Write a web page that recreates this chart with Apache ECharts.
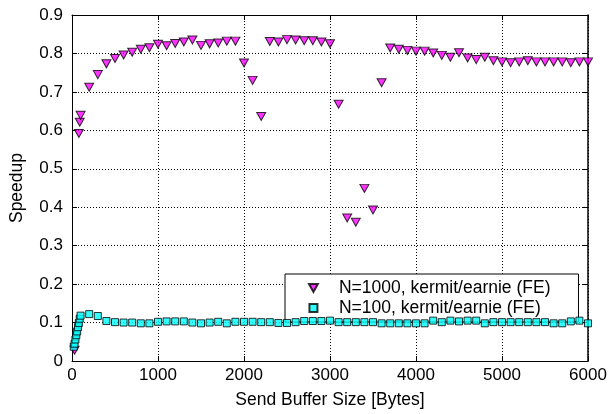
<!DOCTYPE html>
<html>
<head>
<meta charset="utf-8">
<script src="https://cdn.jsdelivr.net/npm/echarts@6/dist/echarts.min.js"></script>
<style>
html,body{margin:0;padding:0;background:#fff;}
#chart{width:611px;height:414px;}
</style>
</head>
<body>
<div id="chart"></div>
<script>
// N=1000, kermit/earnie (FE)
const triX = [30,80,90,100,200,300,400,500,600,700,800,900,1000,1100,1200,1300,1400,1500,1600,1700,1800,1900,2000,2100,2200,2300,2400,2500,2600,2700,2800,2900,3000,3100,3200,3300,3400,3500,3600,3700,3800,3900,4000,4100,4200,4300,4400,4500,4600,4700,4800,4900,5000,5100,5200,5300,5400,5500,5600,5700,5800,5900,6000];
const triY = [0.028,0.592,0.621,0.639,0.712,0.745,0.773,0.787,0.796,0.803,0.811,0.815,0.824,0.820,0.826,0.830,0.835,0.821,0.825,0.827,0.832,0.832,0.775,0.730,0.636,0.831,0.830,0.836,0.835,0.833,0.833,0.830,0.825,0.668,0.372,0.361,0.449,0.393,0.724,0.814,0.811,0.808,0.806,0.806,0.801,0.795,0.790,0.802,0.788,0.784,0.790,0.781,0.778,0.776,0.778,0.781,0.778,0.778,0.778,0.778,0.776,0.778,0.778];
// N=100, kermit/earnie (FE)
const sqX = [20,30,40,50,60,70,80,90,100,200,300,400,500,600,700,800,900,1000,1100,1200,1300,1400,1500,1600,1700,1800,1900,2000,2100,2200,2300,2400,2500,2600,2700,2800,2900,3000,3100,3200,3300,3400,3500,3600,3700,3800,3900,4000,4100,4200,4300,4400,4500,4600,4700,4800,4900,5000,5100,5200,5300,5400,5500,5600,5700,5800,5900,6000];
const sqY = [0.037,0.045,0.056,0.067,0.077,0.088,0.099,0.110,0.118,0.122,0.117,0.104,0.101,0.100,0.100,0.098,0.098,0.102,0.103,0.103,0.103,0.100,0.098,0.100,0.102,0.098,0.102,0.102,0.102,0.101,0.101,0.099,0.099,0.101,0.104,0.104,0.104,0.105,0.101,0.101,0.101,0.101,0.101,0.098,0.098,0.098,0.098,0.098,0.098,0.105,0.101,0.105,0.103,0.105,0.105,0.098,0.101,0.101,0.101,0.101,0.101,0.101,0.101,0.098,0.098,0.103,0.105,0.098];
const seriesNames = ['N=1000, kermit/earnie (FE)', 'N=100, kermit/earnie (FE)'];
const xTitle = 'Send Buffer Size [Bytes]';
const yTitle = 'Speedup';

const FONT = '"Liberation Sans", Arial, Helvetica, sans-serif';
const triPath = 'path://M0,0L10,0L5,9Z';
const sqPath = 'path://M0,0L10,0L10,10L0,10Z';
const zip = (xs, ys) => xs.map((x, i) => [x, ys[i]]);
const tickStyle = {show:true, inside:true, length:5, lineStyle:{color:'#000', width:1}};
const lineStyle = {show:true, onZero:false, lineStyle:{color:'#000', width:1}};

const chart = echarts.init(document.getElementById('chart'), null, {renderer:'canvas'});
chart.setOption({
  backgroundColor:'#fff',
  animation:false,
  textStyle:{fontFamily:FONT},
  grid:{left:72, right:23, top:15, bottom:50, containLabel:false},
  xAxis:[{
    type:'value', min:0, max:6000, interval:1000, position:'bottom',
    name:xTitle, nameLocation:'middle', nameGap:30,
    nameTextStyle:{fontFamily:FONT, fontSize:17.5, color:'#000'},
    axisLine:lineStyle, axisTick:tickStyle,
    axisLabel:{color:'#000', fontFamily:FONT, fontSize:17, margin:6, formatter:v => String(v)},
    splitLine:{show:true, lineStyle:{type:[1,2], color:'#000', width:1}}
  },{
    type:'value', min:0, max:6000, interval:1000, position:'top',
    axisLine:lineStyle, axisTick:tickStyle, axisLabel:{show:false}, splitLine:{show:false}
  }],
  yAxis:[{
    type:'value', min:0, max:0.9, interval:0.1, position:'left',
    name:yTitle, nameLocation:'middle', nameGap:46, nameRotate:90,
    nameTextStyle:{fontFamily:FONT, fontSize:17.5, color:'#000'},
    axisLine:lineStyle, axisTick:tickStyle,
    axisLabel:{color:'#000', fontFamily:FONT, fontSize:17, margin:9,
      formatter:v => v === 0 ? '0' : v.toFixed(1)},
    splitLine:{show:true, lineStyle:{type:[1,2], color:'#000', width:1}}
  },{
    type:'value', min:0, max:0.9, interval:0.1, position:'right',
    axisLine:{show:true, onZero:false, lineStyle:{color:'#000', width:1.5}},
    axisTick:tickStyle, axisLabel:{show:false}, splitLine:{show:false}
  }],
  legend:{
    orient:'vertical', left:285, top:274,
    backgroundColor:'#fff', borderColor:'#000', borderWidth:1, borderRadius:0,
    padding:[5, 28, 5, 23], itemGap:2, itemWidth:9, itemHeight:8,
    textStyle:{fontFamily:FONT, fontSize:17.5, color:'#000', padding:[0,0,0,16]},
    data:[{name:seriesNames[0], icon:triPath}, {name:seriesNames[1], icon:sqPath}]
  },
  series:[{
    name:seriesNames[0], type:'scatter', data:zip(triX, triY),
    symbol:triPath, symbolSize:[9,8],
    itemStyle:{color:'#ff00ff', borderColor:'#000', borderWidth:1}, z:3
  },{
    name:seriesNames[1], type:'scatter', data:zip(sqX, sqY),
    symbol:'rect', symbolSize:7,
    itemStyle:{color:'#00ffff', borderColor:'#000', borderWidth:1}, z:4
  }]
});
</script>
</body>
</html>
